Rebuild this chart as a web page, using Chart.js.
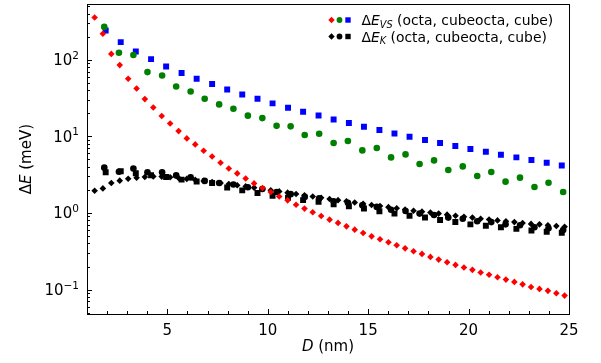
<!DOCTYPE html>
<html>
<head>
<meta charset="utf-8">
<script src="https://cdn.jsdelivr.net/npm/chart.js@4.4.1/dist/chart.umd.min.js"></script>
<style>
  html, body { margin: 0; padding: 0; background: #ffffff; }
  #wrap { width: 601px; height: 363px; }
</style>
</head>
<body>
<div id="wrap"><canvas id="c" width="601" height="363"></canvas></div>
<script>
// Diameters (nm) for each particle shape
const dOcta = [1.38, 1.79, 2.21, 2.63, 3.05, 3.47, 3.88, 4.30, 4.72, 5.14, 5.56, 5.97, 6.39, 6.81, 7.23, 7.65, 8.06, 8.48, 8.90, 9.32,
  9.74, 10.15, 10.57, 10.99, 11.41, 11.83, 12.24, 12.66, 13.08, 13.50, 13.92, 14.33, 14.75, 15.17, 15.59, 16.01, 16.42, 16.84, 17.26, 17.68,
  18.10, 18.51, 18.93, 19.35, 19.77, 20.19, 20.60, 21.02, 21.44, 21.86, 22.28, 22.69, 23.11, 23.53, 23.95, 24.37, 24.78];
const dCubeocta = [1.86, 2.59, 3.31, 4.01, 4.74, 5.44, 6.16, 6.86, 7.58, 8.29, 9.01, 9.73, 10.44, 11.14, 11.84, 12.56, 13.28, 13.99,
  14.71, 15.43, 16.14, 16.86, 17.56, 18.28, 18.99, 19.71, 20.43, 21.13, 21.84, 22.56, 23.28, 23.98, 24.71];
const dCube = [1.93, 2.68, 3.43, 4.19, 4.94, 5.71, 6.46, 7.23, 7.98, 8.73, 9.49, 10.24, 11.01, 11.76, 12.53, 13.28, 14.04, 14.79,
  15.56, 16.31, 17.06, 17.83, 18.58, 19.34, 20.09, 20.86, 21.61, 22.38, 23.13, 23.89, 24.64];

// Level spacing ΔE_VS (meV)
const evsOcta = [355, 218, 119, 85, 56.4, 42.1, 30.6, 23.8, 18.4, 14.7, 11.7, 9.4, 7.84, 6.49, 5.45, 4.53, 3.81, 3.28, 2.82, 2.43,
  2.12, 1.88, 1.64, 1.46, 1.28, 1.14, 1.02, 0.914, 0.818, 0.741, 0.669, 0.605, 0.548, 0.495, 0.453, 0.414, 0.378, 0.345, 0.316, 0.292,
  0.267, 0.246, 0.227, 0.210, 0.194, 0.181, 0.167, 0.156, 0.145, 0.135, 0.126, 0.117, 0.108, 0.102, 0.0962, 0.0895, 0.0835];
const evsCubeocta = [268, 123, 115, 68.9, 62.2, 44.7, 38.5, 30.9, 26.1, 22.9, 18.6, 17.3, 13.7, 13.5, 10.4, 10.8, 8.18, 8.68,
  6.55, 7.04, 5.31, 5.81, 4.35, 4.85, 3.64, 4.05, 3.04, 3.42, 2.56, 2.89, 2.18, 2.48, 1.88];
const evsCube = [240, 169.5, 128, 101.8, 81.5, 66.9, 56.4, 48.1, 40.9, 35.2, 30.9, 26.9, 23.6, 20.9, 18.7, 16.6, 14.9, 13.3,
  12.1, 10.9, 9.88, 8.95, 8.18, 7.47, 6.83, 6.30, 5.75, 5.31, 4.91, 4.53, 4.17];

// Level spacing ΔE_K (meV)
const ekOcta = [1.95, 2.09, 2.46, 2.64, 2.80, 2.88, 2.95, 3.0, 2.98, 2.93, 2.86, 2.78, 2.70, 2.62, 2.54, 2.46, 2.38, 2.30, 2.22, 2.14,
  2.06, 1.98, 1.91, 1.84, 1.77, 1.70, 1.64, 1.58, 1.52, 1.47, 1.42, 1.37, 1.32, 1.27, 1.23, 1.19, 1.15, 1.11, 1.07, 1.04,
  1.01, 0.98, 0.95, 0.92, 0.89, 0.87, 0.84, 0.82, 0.80, 0.78, 0.76, 0.74, 0.72, 0.71, 0.69, 0.675, 0.66];
const ekCubeocta = [3.9, 3.45, 3.8, 3.4, 3.4, 3.09, 2.91, 2.62, 2.46, 2.35, 2.16, 2.05, 1.88, 1.76, 1.62, 1.55, 1.42, 1.36,
  1.26, 1.20, 1.10, 1.06, 0.98, 0.94, 0.87, 0.84, 0.78, 0.76, 0.71, 0.69, 0.65, 0.63, 0.60];
const ekCube = [3.4, 3.5, 3.3, 3.1, 2.95, 2.72, 2.58, 2.46, 2.15, 1.97, 1.82, 1.68, 1.58, 1.47, 1.40, 1.30, 1.22, 1.14,
  1.05, 0.98, 0.92, 0.87, 0.81, 0.76, 0.71, 0.68, 0.65, 0.62, 0.59, 0.57, 0.55];

// Axis ticks and labels
const xTickLabels = [5, 10, 15, 20, 25];
const yTickExponents = [-1, 0, 1, 2];
const shapeNames = ['octa', 'cubeocta', 'cube'];

const FONT = '"DejaVu Sans", "Liberation Sans", sans-serif';

function pts(xs, ys) { return xs.map((x, i) => ({ x: x, y: ys[i] })); }

function series(label, xs, ys, color, style, radius, order) {
  return {
    label: label,
    data: pts(xs, ys),
    pointStyle: style,
    pointRadius: radius,
    pointHoverRadius: radius,
    backgroundColor: color,
    borderColor: color,
    borderWidth: 0,
    showLine: false,
    order: order
  };
}

// Mixed-font text: runs of {t, f (font), dy (baseline shift)}
function runsWidth(ctx, runs) {
  let w = 0;
  for (const r of runs) { ctx.font = r.f; w += ctx.measureText(r.t).width; }
  return w;
}
function drawRuns(ctx, runs, x, y, align) {
  const w = runsWidth(ctx, runs);
  let cx = align === 'right' ? x - w : align === 'center' ? x - w / 2 : x;
  ctx.textBaseline = 'alphabetic';
  ctx.textAlign = 'left';
  for (const r of runs) {
    ctx.font = r.f;
    ctx.fillText(r.t, cx, y + (r.dy || 0));
    cx += ctx.measureText(r.t).width;
  }
}

function marker(ctx, style, x, y, r, color) {
  ctx.fillStyle = color;
  ctx.beginPath();
  if (style === 'circle') {
    ctx.arc(x, y, r, 0, Math.PI * 2);
  } else if (style === 'rect') {
    ctx.rect(x - r, y - r, 2 * r, 2 * r);
  } else {
    ctx.moveTo(x, y - r); ctx.lineTo(x + r, y); ctx.lineTo(x, y + r); ctx.lineTo(x - r, y);
    ctx.closePath();
  }
  ctx.fill();
}

const decorations = {
  id: 'decorations',
  afterDatasetsDraw(chart) {
    const ctx = chart.ctx;
    const a = chart.chartArea;
    const xs = chart.scales.x, ys = chart.scales.y;
    ctx.save();
    ctx.strokeStyle = '#000';
    ctx.fillStyle = '#000';
    ctx.lineWidth = 1;

    // inward ticks
    ctx.beginPath();
    for (let v = 1; v <= 25; v++) {
      const px = Math.round(xs.getPixelForValue(v)) + 0.5;
      const len = xTickLabels.includes(v) ? 5 : 3;
      ctx.moveTo(px, a.bottom); ctx.lineTo(px, a.bottom - len);
    }
    for (let e = -2; e <= 2; e++) {
      for (let m = 1; m <= 9; m++) {
        const v = m * Math.pow(10, e);
        if (v < ys.min || v > ys.max) continue;
        const py = Math.round(ys.getPixelForValue(v)) + 0.5;
        const len = m === 1 ? 5 : 3;
        ctx.moveTo(a.left, py); ctx.lineTo(a.left + len, py);
      }
    }
    ctx.stroke();

    // frame
    ctx.strokeRect(Math.round(a.left) + 0.5, Math.round(a.top) + 0.5,
      Math.round(a.right - a.left), Math.round(a.bottom - a.top));

    // x tick labels
    ctx.font = '15px ' + FONT;
    ctx.textAlign = 'center';
    ctx.textBaseline = 'alphabetic';
    for (const v of xTickLabels) {
      ctx.fillText(String(v), xs.getPixelForValue(v), 334.5);
    }
    // y tick labels 10^n
    for (const e of yTickExponents) {
      const py = ys.getPixelForValue(Math.pow(10, e));
      const exp = e < 0 ? '\u2212' + Math.abs(e) : String(e);
      drawRuns(ctx, [
        { t: '10', f: '15px ' + FONT },
        { t: exp, f: '10.5px ' + FONT, dy: -6.5 }
      ], 79, py + 5.5, 'right');
    }

    // axis titles
    drawRuns(ctx, [
      { t: 'D', f: 'italic 15px ' + FONT },
      { t: ' (nm)', f: '15px ' + FONT }
    ], (a.left + a.right) / 2, 351, 'center');

    ctx.save();
    ctx.translate(26, (a.top + a.bottom) / 2);
    ctx.rotate(-Math.PI / 2);
    drawRuns(ctx, [
      { t: '\u0394', f: '15px ' + FONT },
      { t: 'E', f: 'italic 15px ' + FONT },
      { t: ' (meV)', f: '15px ' + FONT }
    ], 0, 5, 'center');
    ctx.restore();

    // legend
    const rows = [
      { y: 20, colors: ['#ff0000', '#008000', '#0000ff'], sub: 'VS' },
      { y: 36.5, colors: ['#000000', '#000000', '#000000'], sub: 'K' }
    ];
    for (const r of rows) {
      marker(ctx, 'diamond', 331.5, r.y, 3.2, r.colors[0]);
      marker(ctx, 'circle', 339.5, r.y, 2.9, r.colors[1]);
      marker(ctx, 'rect', 348, r.y, 2.7, r.colors[2]);
      ctx.fillStyle = '#000';
      drawRuns(ctx, [
        { t: '\u0394', f: '13.9px ' + FONT },
        { t: 'E', f: 'italic 13.9px ' + FONT },
        { t: r.sub, f: 'italic 9.7px ' + FONT, dy: 2.8 },
        { t: ' (' + shapeNames.join(', ') + ')', f: '13.9px ' + FONT }
      ], 361.5, r.y + 5, 'left');
    }
    ctx.restore();
  }
};

new Chart(document.getElementById('c'), {
  type: 'scatter',
  data: {
    datasets: [
      series('ΔE_K cube', dCube, ekCube, '#000000', 'rect', 4.2, 6),
      series('ΔE_K cubeocta', dCubeocta, ekCubeocta, '#000000', 'circle', 3.3, 5),
      series('ΔE_K octa', dOcta, ekOcta, '#000000', 'rectRot', 3.3, 4),
      series('ΔE_VS cube', dCube, evsCube, '#0000ff', 'rect', 4.2, 3),
      series('ΔE_VS cubeocta', dCubeocta, evsCubeocta, '#008000', 'circle', 3.3, 2),
      series('ΔE_VS octa', dOcta, evsOcta, '#ff0000', 'rectRot', 3.3, 1)
    ]
  },
  options: {
    responsive: false,
    animation: false,
    events: [],
    layout: { padding: { top: 4, right: 32, left: 0, bottom: 0 } },
    plugins: { legend: { display: false }, tooltip: { enabled: false } },
    scales: {
      x: {
        type: 'linear', min: 1, max: 25,
        grid: { display: false }, border: { display: false },
        ticks: { display: false },
        afterFit(s) { s.height = 49; }
      },
      y: {
        type: 'logarithmic', min: 0.048, max: 530,
        grid: { display: false }, border: { display: false },
        ticks: { display: false },
        afterFit(s) { s.width = 87; }
      }
    }
  },
  plugins: [decorations]
});
</script>
</body>
</html>
